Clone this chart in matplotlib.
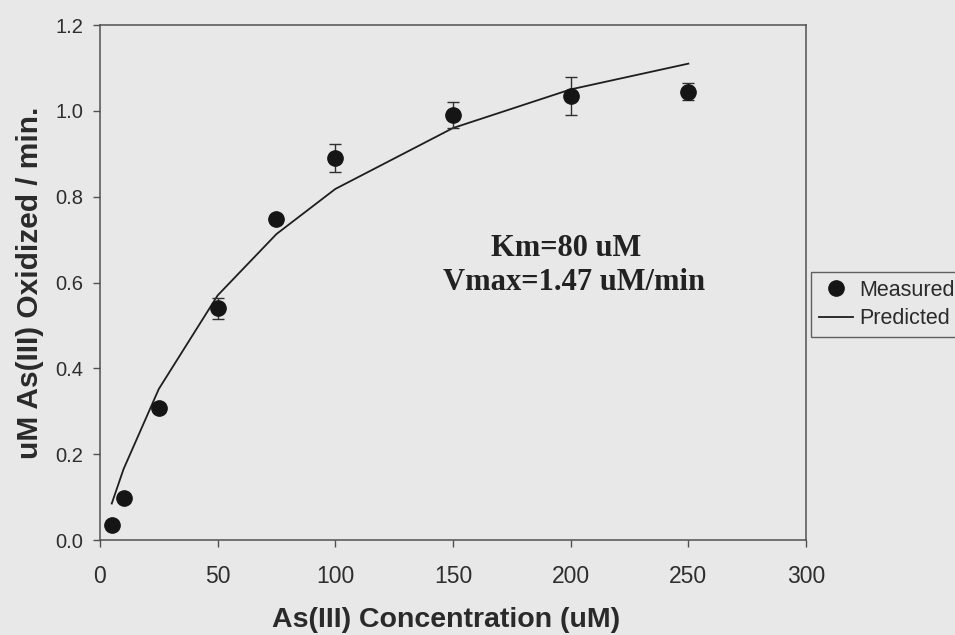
import matplotlib
matplotlib.use('Agg')
import matplotlib.pyplot as plt

# As(III) concentration (uM)
conc = [5, 10, 25, 50, 75, 100, 150, 200, 250]
# measured rate (uM oxidized / min) and error bars
measured = [0.035, 0.098, 0.308, 0.540, 0.747, 0.890, 0.990, 1.035, 1.045]
measured_err = [0.0, 0.0, 0.0, 0.024, 0.008, 0.033, 0.030, 0.045, 0.020]
# predicted curve (Km=80 uM, Vmax=1.47 uM/min)
predicted = [0.085, 0.165, 0.352, 0.570, 0.713, 0.818, 0.960, 1.050, 1.110]

xticks = [0, 50, 100, 150, 200, 250, 300]
yticks = [0.0, 0.2, 0.4, 0.6, 0.8, 1.0, 1.2]

plt.rcParams['font.family'] = ['Liberation Sans', 'DejaVu Sans']
bg = '#e8e8e8'
axcol = '#505050'

fig = plt.figure(figsize=(9.55, 6.35), dpi=100, facecolor=bg)
ax = fig.add_axes([0.1047, 0.1496, 0.7393, 0.811], facecolor=bg)

# error bars first, then the points and the predicted line
ax.errorbar(conc, measured, yerr=measured_err, fmt='none', ecolor='#303030',
            elinewidth=1.0, capsize=4, capthick=1.0, zorder=3)
ax.plot(conc, measured, 'o', color='#151515', ms=11, label='Measured',
        zorder=4)
ax.plot(conc, predicted, color='#1e1e1e', lw=1.3, label='Predicted', zorder=2)

ax.set_xlim(0, 300)
ax.set_ylim(0, 1.2)
ax.set_xticks(xticks)
ax.set_yticks(yticks)
ax.set_yticklabels(['%.1f' % v for v in yticks])

for s in ax.spines.values():
    s.set_color(axcol)
    s.set_linewidth(1.1)

ax.tick_params(axis='x', direction='out', length=5, width=1.0, color=axcol,
               labelsize=16.5, pad=13, labelcolor='#2e2e2e')
ax.tick_params(axis='y', direction='out', length=5, width=1.0, color=axcol,
               labelsize=14.5, pad=7, labelcolor='#2e2e2e')

# axis labels
ax.set_xlabel('As(III) Concentration (uM)', fontsize=20.5, fontweight='bold',
              color='#2a2a2a')
ax.xaxis.set_label_coords(0.49, -0.131)
ax.set_ylabel('uM As(III) Oxidized / min.', fontsize=21.5, fontweight='bold',
              color='#2a2a2a')
ax.yaxis.set_label_coords(-0.08, 0.5)

# kinetic constants
ax.text(0.66, 0.567, 'Km=80 uM', transform=ax.transAxes, ha='center',
        va='center', fontsize=22, fontweight='bold',
        family=['Liberation Serif', 'DejaVu Serif'], color='#222222')
ax.text(0.671, 0.5, 'Vmax=1.47 uM/min', transform=ax.transAxes,
        ha='center', va='center', fontsize=22, fontweight='bold',
        family=['Liberation Serif', 'DejaVu Serif'], color='#222222')

# legend hanging off the right side
leg = ax.legend(loc='upper left',
                bbox_to_anchor=(811 / 955, 1 - 272 / 635),
                bbox_transform=fig.transFigure, fontsize=15.5,
                frameon=True, fancybox=False, framealpha=1,
                facecolor=bg, edgecolor='#606060', handlelength=1.6,
                handletextpad=0.3, borderpad=0.35, labelspacing=0.35,
                borderaxespad=0)
leg.get_frame().set_linewidth(1.0)
for t in leg.get_texts():
    t.set_color('#2a2a2a')

fig.savefig('out.png', dpi=100, facecolor=bg)
